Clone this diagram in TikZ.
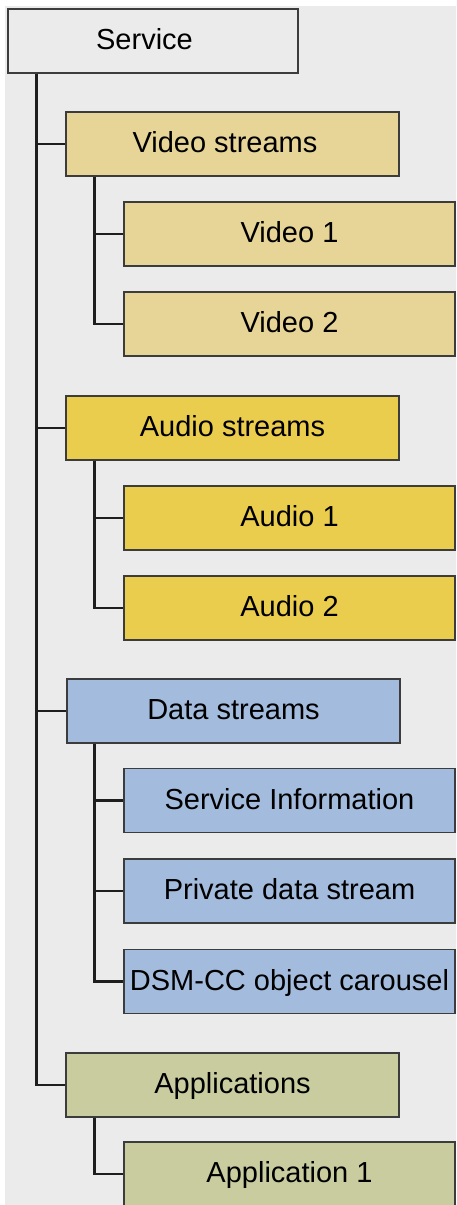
\documentclass[tikz,border=0pt]{standalone}
\usepackage{fontspec}
\setmainfont{Liberation Sans}
\definecolor{pagebg}{HTML}{EBEBEB}
\definecolor{boxline}{HTML}{3C3C3C}
\definecolor{connline}{HTML}{1E1E1E}
\definecolor{videofill}{HTML}{E6D597}
\definecolor{audiofill}{HTML}{EBCD4E}
\definecolor{datafill}{HTML}{A3BBDC}
\definecolor{appfill}{HTML}{C8CC9E}
\begin{document}
\begin{tikzpicture}[x=1pt,y=-1pt,
  box/.style={draw=boxline, line width=1.6pt, minimum height=64pt, inner sep=0pt,
    text height=20pt, text depth=3pt, font=\fontsize{29}{35}\selectfont},
  rootbox/.style={box, fill=pagebg, minimum width=290pt},
  groupbox/.style={box, minimum width=333pt},
  leafbox/.style={box, minimum width=331pt},
  lbl/.style={inner sep=0pt, text height=20pt, text depth=3pt, font=\fontsize{29}{35}\selectfont},
  conn/.style={draw=connline, line width=2.8pt}]
\useasboundingbox (0,0) rectangle (456,1205);
\begin{scope}
\clip (0,0) rectangle (456,1205);
% page background
\fill[white] (0,0) rectangle (456,1205);
\fill[pagebg] (5,6) rectangle (456,1205);

% root
\node[rootbox] (srv) at (153,41) {};
\node[lbl] (srvtxt) at ([xshift=-8.5pt]srv.center) {Service};

% video
\node[groupbox, fill=videofill] (vid) at (232.5,144) {};
\node[lbl] (vidtxt) at ([xshift=-7.5pt]vid.center) {Video streams};
\node[leafbox, fill=videofill] (v1) at (289.5,234) {Video 1};
\node[leafbox, fill=videofill] (v2) at (289.5,324) {Video 2};

% audio
\node[groupbox, fill=audiofill] (aud) at (232.5,428) {Audio streams};
\node[leafbox, fill=audiofill] (a1) at (289.5,518) {Audio 1};
\node[leafbox, fill=audiofill] (a2) at (289.5,608) {Audio 2};

% data
\node[groupbox, fill=datafill] (dat) at (233.5,711) {Data streams};
\node[leafbox, fill=datafill] (d1) at (289.5,800.5) {Service Information};
\node[leafbox, fill=datafill] (d2) at (289.5,891) {Private data stream};
\node[leafbox, fill=datafill] (d3) at (289.5,981.5) {DSM-CC object carousel};

% applications
\node[groupbox, fill=appfill] (app) at (232.5,1085) {Applications};
\node[leafbox, fill=appfill] (ap1) at (289.5,1174) {Application 1};

% tree connectors
\foreach \g in {vid,aud,dat,app}
  \draw[conn] ([xshift=29pt]srv.south west) |- (\g.west);
\foreach \c in {v1,v2}
  \draw[conn] ([xshift=29pt]vid.south west) |- (\c.west);
\foreach \c in {a1,a2}
  \draw[conn] ([xshift=29pt]aud.south west) |- (\c.west);
\foreach \c in {d1,d2,d3}
  \draw[conn] ([xshift=28pt]dat.south west) |- (\c.west);
\draw[conn] ([xshift=29pt]app.south west) |- (ap1.west);
\end{scope}
\end{tikzpicture}
\end{document}
